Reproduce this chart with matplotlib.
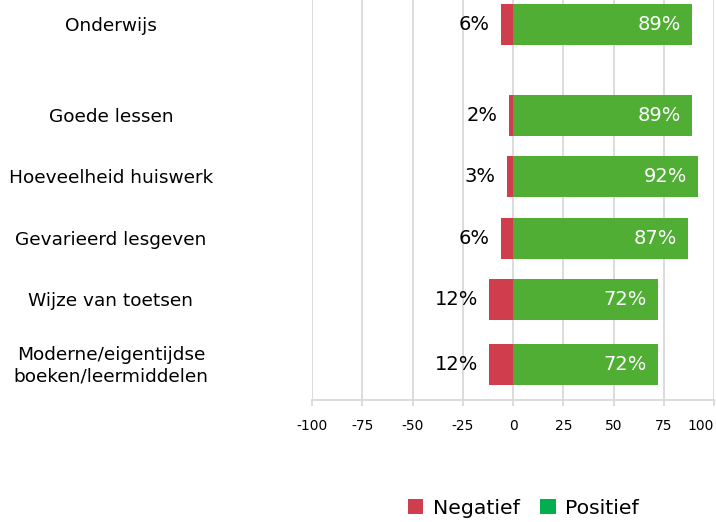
import matplotlib
matplotlib.use("Agg")
import matplotlib.pyplot as plt
import matplotlib.transforms as mtransforms
from matplotlib.patches import Patch

# data
categories = ["Onderwijs", "Goede lessen", "Hoeveelheid huiswerk",
              "Gevarieerd lesgeven", "Wijze van toetsen",
              "Moderne/eigentijdse\nboeken/leermiddelen"]
negatief = [6, 2, 3, 6, 12, 12]
positief = [89, 89, 92, 87, 72, 72]
xticks = [-100, -75, -50, -25, 0, 25, 50, 75, 100]

# layout (rows in pixel units of the plot area, top = 0)
row_y = [24.3, 115.3, 176.3, 238.3, 299.3, 364.2]
bar_h = 40.7

red = "#d03e4e"
green = "#4fae33"
legend_green = "#00b050"
grid_col = "#d9d9d9"

plt.rcParams["font.family"] = "DejaVu Sans"

fig = plt.figure(figsize=(7.16, 5.22), dpi=100)
W, H = 716, 522
ax = fig.add_axes([312 / W, 1 - 400 / H, 402 / W, 400 / H])

ax.barh(row_y, [-v for v in negatief], height=bar_h, color=red, zorder=3)
ax.barh(row_y, positief, height=bar_h, color=green, zorder=3)

ax.set_xlim(-100, 100)
ax.set_ylim(400, 0)
ax.set_xticks(xticks)
ax.set_xticklabels([str(t) for t in xticks], fontsize=10)
ax.get_xticklabels()[-1].set_horizontalalignment("right")
ax.set_yticks([])
ax.grid(axis="x", color=grid_col, linewidth=1.3, zorder=0)
for s in ["left", "right", "top"]:
    ax.spines[s].set_visible(False)
ax.spines["bottom"].set_color(grid_col)
ax.spines["bottom"].set_linewidth(1.3)
ax.tick_params(axis="x", length=4, width=1.3, color=grid_col, pad=10,
               labelcolor="black")

# data labels
off = 11 / 2.01
for y, n, p in zip(row_y, negatief, positief):
    ax.text(-n - off, y, f"{n}%", ha="right", va="center", fontsize=14,
            color="black", zorder=4)
    ax.text(p - off, y, f"{p}%", ha="right", va="center", fontsize=14,
            color="white", zorder=4)

# category labels
trans = mtransforms.blended_transform_factory(fig.transFigure, ax.transData)
for y, c in zip(row_y, categories):
    ax.text(111 / W, y + 2, c, transform=trans, ha="center", va="center",
            fontsize=13.3, color="black", linespacing=1.25)

handles = [Patch(facecolor=red, label="Negatief"),
           Patch(facecolor=legend_green, label="Positief")]
fig.legend(handles=handles, loc="center", bbox_to_anchor=(523.5 / W, 1 - 508 / H),
           ncol=2, frameon=False, fontsize=14.7, handlelength=0.75,
           handleheight=0.75, handletextpad=0.48, columnspacing=1.0,
           borderpad=0)

fig.savefig("out.png", dpi=100)
